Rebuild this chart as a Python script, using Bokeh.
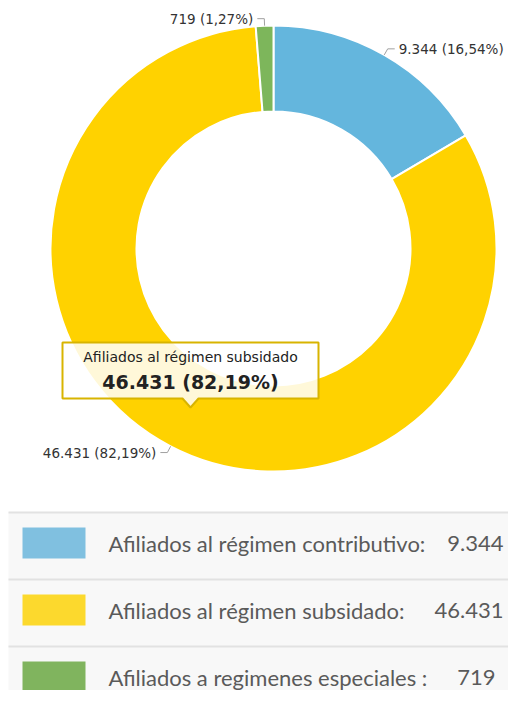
import numpy as np
from bokeh.plotting import figure
from bokeh.models import Range1d, ColumnDataSource
from bokeh.core.properties import value
from bokeh.embed import file_html
from bokeh.resources import INLINE

# ---------------- data ----------------
categories = ["Afiliados al régimen contributivo",
              "Afiliados al régimen subsidado",
              "Afiliados a regimenes especiales"]
values = [9344, 46431, 719]
value_labels = ["9.344", "46.431", "719"]
pct_labels = ["16,54%", "82,19%", "1,27%"]
legend_names = ["Afiliados al régimen contributivo:",
                "Afiliados al régimen subsidado:",
                "Afiliados a regimenes especiales :"]
slice_colors = ["#64B6DD", "#FFD200", "#7DB65B"]
legend_colors = ["#80C0E0", "#FCD92D", "#80B45E"]

# ---------------- layout helpers (pixel coords, origin top-left) ----------------
W, H = 508, 690
def Y(py):
    return H - py

cx, cy = 273, Y(248)
r_out, r_in = 223, 137

p = figure(width=W, height=H, output_backend="svg", toolbar_location=None,
           x_range=Range1d(0, W), y_range=Range1d(0, H),
           min_border=0, outline_line_color=None)
p.axis.visible = False
p.grid.visible = False
p.background_fill_color = "white"
p.border_fill_color = "white"

vals = np.array(values, dtype=float)
frac = vals / vals.sum()
cum = np.concatenate([[0], np.cumsum(frac)])
start = np.pi / 2 - 2 * np.pi * cum[:-1]
end = np.pi / 2 - 2 * np.pi * cum[1:]
mid = (start + end) / 2

src = ColumnDataSource(dict(start=start, end=end, color=slice_colors))
p.annular_wedge(x=cx, y=cy, inner_radius=r_in, outer_radius=r_out,
                start_angle="start", end_angle="end", direction="clock",
                fill_color="color", line_color="white", line_width=2, source=src)

# ---------------- slice labels with connectors ----------------
for i in range(3):
    a = mid[i]
    x1, y1 = cx + r_out * np.cos(a), cy + r_out * np.sin(a)
    x2, y2 = cx + (r_out + 7) * np.cos(a), cy + (r_out + 7) * np.sin(a)
    side = 1 if np.cos(a) > 0 else -1
    x3 = x2 + side * 7
    p.line([x1, x2, x3], [y1, y2, y2], line_color="#A0A0A0", line_width=1)
    p.text(x=[x3 + side * 4], y=[y2], text=[f"{value_labels[i]} ({pct_labels[i]})"],
           text_align="left" if side > 0 else "right", text_baseline="middle",
           text_font=value("DejaVu Sans"), text_font_size="13.5px", text_color="#333333")

# ---------------- tooltip ----------------
tx0, tx1, ty0, ty1 = 62, 318, 342, 398
tcx = (tx0 + tx1) / 2
ptx = 190
px = [tx0, tx1, tx1, ptx + 8, ptx, ptx - 8, tx0]
py = [Y(ty0), Y(ty0), Y(ty1), Y(ty1), Y(ty1 + 9), Y(ty1), Y(ty1)]
p.patch(px, py, fill_color="white", fill_alpha=0.85,
        line_color="#D8B400", line_width=2)
p.text(x=[tcx], y=[Y(356)], text=[categories[1]],
       text_align="center", text_baseline="middle",
       text_font=value("DejaVu Sans"), text_font_size="14px", text_color="#222222")
p.text(x=[tcx], y=[Y(381)], text=[f"{value_labels[1]} ({pct_labels[1]})"],
       text_align="center", text_baseline="middle",
       text_font=value("DejaVu Sans"), text_font_size="19px", text_font_style="bold",
       text_color="#222222")

# ---------------- legend panel ----------------
row_top = [512, 579, 646]
row_h = 67
value_right = [503, 503, 495]
for i in range(3):
    t = row_top[i]
    p.quad(left=8, right=W, top=Y(t), bottom=Y(t + row_h),
           fill_color="#F8F8F8", line_color=None)
    p.line([8, W], [Y(t), Y(t)], line_color="#E2E2E2", line_width=2)
    p.quad(left=22, right=85, top=Y(t + 15), bottom=Y(t + 46),
           fill_color=legend_colors[i], line_color=None)
    p.text(x=[108], y=[Y(t + 31)], text=[legend_names[i]],
           text_align="left", text_baseline="middle",
           text_font=value("Lato"), text_font_size="22px", text_color="#5A5A5A")
    p.text(x=[value_right[i]], y=[Y(t + 31)], text=[value_labels[i]],
           text_align="right", text_baseline="middle",
           text_font=value("Lato"), text_font_size="22px", text_color="#5A5A5A")

open("out.html", "w").write(file_html(p, INLINE))
